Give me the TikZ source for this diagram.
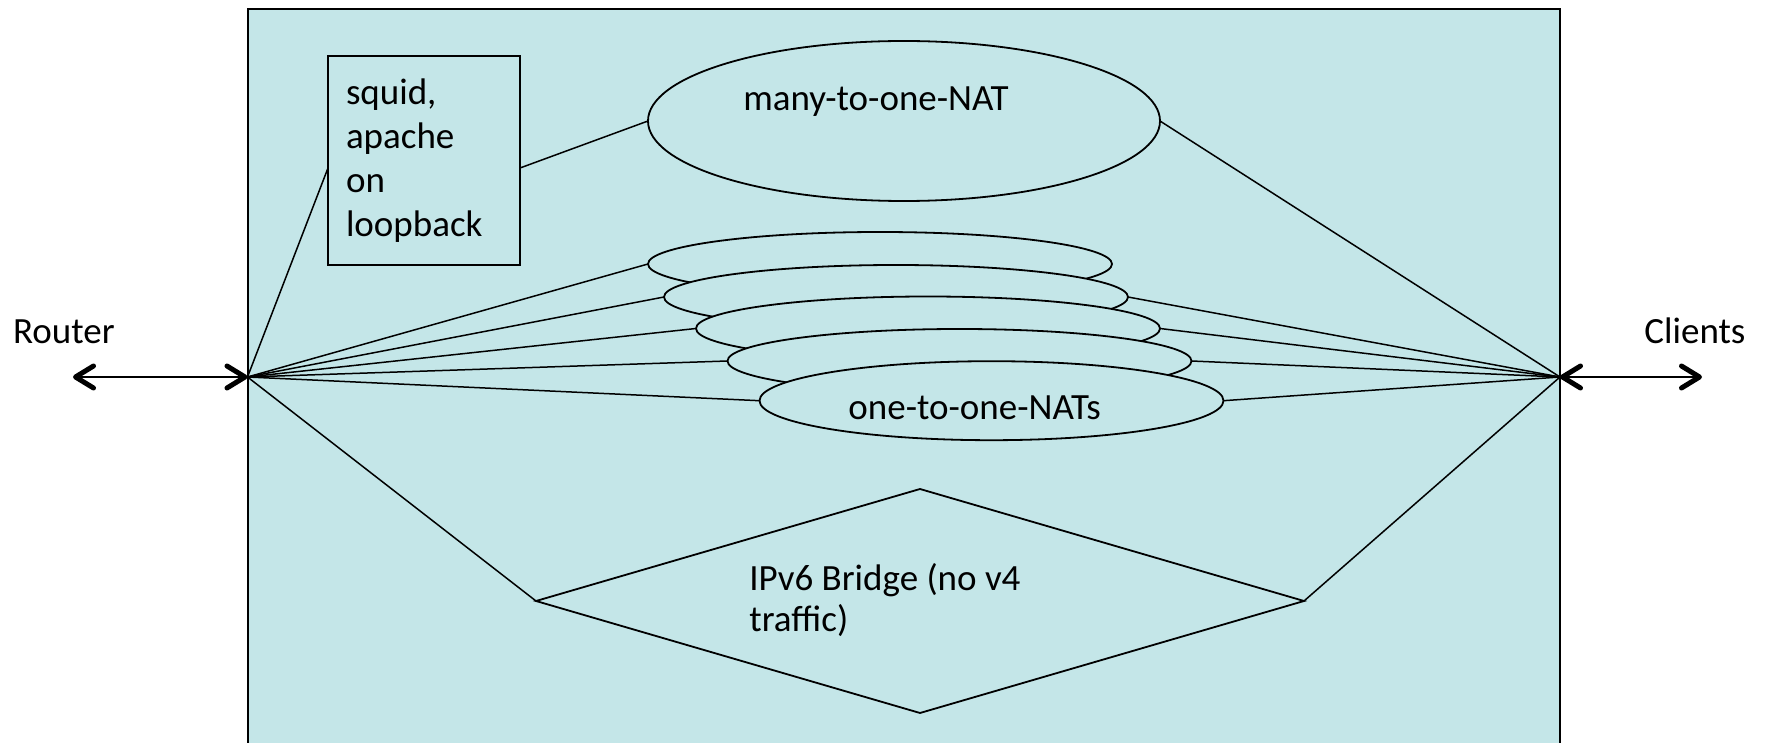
\documentclass[tikz,border=0pt]{standalone}
\usepackage{fontspec}
\setmainfont{Carlito}
\usetikzlibrary{shapes.geometric,arrows.meta}
\definecolor{natbg}{RGB}{196,230,232}
\begin{document}
\begin{tikzpicture}[x=0.5pt,y=-0.5pt,
  every node/.style={font=\fontsize{18.5pt}{22.1pt}\selectfont},
  conn/.style={line width=0.75pt},
  shapeline/.style={draw=black,line width=0.9pt,fill=natbg},
  nat/.style={shapeline,ellipse,inner sep=0pt,outer sep=0pt,minimum width=232pt,minimum height=32pt},
  lbl/.style={inner sep=0pt,anchor=base west},
  biarrow/.style={line width=1.35pt,{Straight Barb[length=9pt,width=11pt,line width=2.5pt,round]}-{Straight Barb[length=9pt,width=11pt,line width=2.5pt,round]}}
]
\useasboundingbox (0,0) rectangle (1769,743);
\fill[natbg] (247.5,9) rectangle (1560,743);
\draw[line width=1pt] (247.5,743) -- (247.5,9) -- (1560,9) -- (1560,743);
\coordinate (L) at (247.5,377);
\coordinate (R) at (1560,377);
\coordinate (routerend) at (73,377);
\coordinate (clientend) at (1702,377);

\node[lbl] (router) at (12.7,343.3) {Router};
\node[lbl] (clients) at (1644,343.3) {Clients};

\node[shapeline,rectangle,text width=78pt,inner xsep=9pt,inner ysep=0pt,outer sep=0pt,minimum height=104.5pt,align=flush left] (proxy) at (424,160.5) {squid,\\apache\\on\\loopback};

\node[shapeline,ellipse,inner sep=0pt,outer sep=0pt,minimum width=256pt,minimum height=80pt] (m2o) at (904,121) {};
\node[lbl] (m2otxt) at (743,110.7) {many-to-one-NAT};

\node[nat] (e1) at (880,264) {};
\node[nat] (e2) at (896,297) {};
\node[nat] (e3) at (928,328.5) {};
\node[nat] (e4) at (959.5,361) {};
\node[nat,minimum height=39.5pt] (e5) at (991.5,400.7) {};
\node[lbl] (o2otxt) at (848,419.3) {one-to-one-NATs};

\node[shapeline,diamond,inner sep=0pt,outer sep=0pt,minimum width=384pt,minimum height=112pt] (bridge) at (920,601) {};
\node[lbl,text width=200pt,align=flush left,font=\fontsize{18.5pt}{20.5pt}\selectfont] (bridgetxt) at (749,590.7) {IPv6 Bridge (no v4\\traffic)};

\draw[conn] (L) -- ([yshift=-3.75pt]proxy.west);
\draw[conn] ([yshift=-3.75pt]proxy.east) -- (m2o.west);
\draw[conn] (m2o.east) -- (R);
\foreach \e in {e1,e2,e3,e4,e5} {\draw[conn] (L) -- (\e.west);}
\foreach \e in {e2,e3,e4,e5} {\draw[conn] (\e.east) -- (R);}
\draw[conn] (L) -- (bridge.west);
\draw[conn] (bridge.east) -- (R);

\draw[biarrow] (routerend) -- (L);
\draw[biarrow] (R) -- (clientend);
\end{tikzpicture}
\end{document}
